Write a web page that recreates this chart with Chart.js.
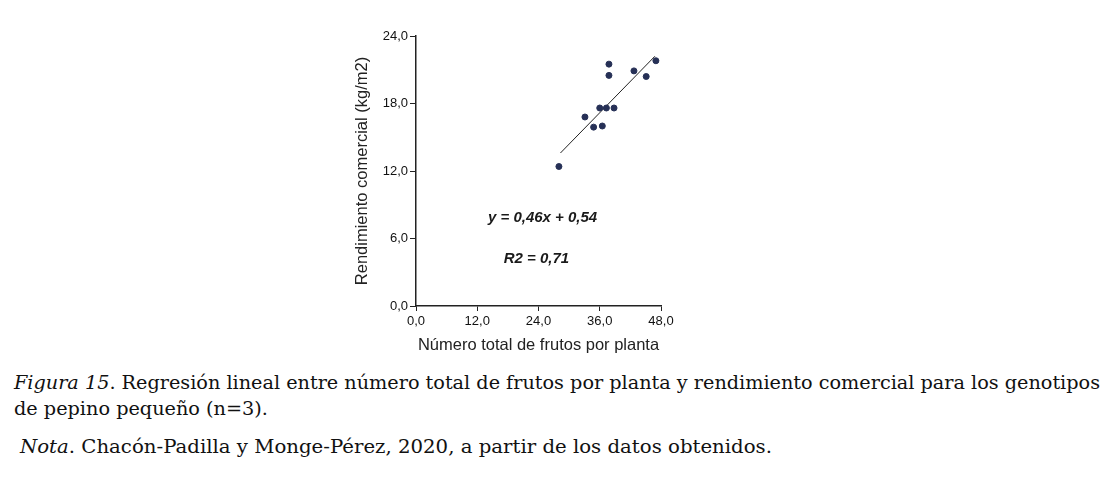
<!DOCTYPE html>
<html>
<head>
<meta charset="utf-8">
<script src="https://cdn.jsdelivr.net/npm/chart.js@4/dist/chart.umd.min.js"></script>
<style>
  html, body { margin: 0; padding: 0; background: #fff; }
  body { width: 1115px; height: 480px; position: relative; overflow: hidden; }
  #wrap { position: absolute; left: 340px; top: 20px; width: 340px; height: 340px; }
  .cap { position: absolute; font-family: "DejaVu Serif", "Liberation Serif", serif; font-size: 18px; color: #111; white-space: nowrap; transform-origin: 0 0; }
  .cap i { font-style: italic; }
</style>
</head>
<body>
<div id="wrap"><canvas id="chart"></canvas></div>
<div class="cap" id="cap1" data-w="1086" style="left:14px; top:372px;"><i>Figura 15</i>. Regresión lineal entre número total de frutos por planta y rendimiento comercial para los genotipos</div>
<div class="cap" id="cap2" data-w="254" style="left:14px; top:398px;">de pepino pequeño (n=3).</div>
<div class="cap" id="cap3" data-w="752" style="left:20px; top:436px;"><i>Nota</i>. Chacón-Padilla y Monge-Pérez, 2020, a partir de los datos obtenidos.</div>
<script>
// frutos por planta (x) y rendimiento comercial kg/m2 (y)
var frutos = [28.0, 33.1, 34.8, 36.5, 36.0, 37.3, 38.8, 37.8, 37.8, 42.7, 45.1, 47.0];
var rendimiento = [12.4, 16.8, 15.9, 16.0, 17.6, 17.6, 17.6, 21.5, 20.5, 20.9, 20.4, 21.8];
// tendencia lineal (extremos)
var lineaX = [28.3, 46.8];
var lineaY = [13.6, 22.2];
var ticksX = [0, 12, 24, 36, 48];
var ticksY = [0, 6, 12, 18, 24];
var ecuacion = 'y = 0,46x + 0,54';
var r2 = 'R2 = 0,71';

// ajustar el ancho de los textos del pie
document.querySelectorAll('.cap').forEach(function (el) {
  var w = el.getBoundingClientRect().width;
  el.style.transform = 'scaleX(' + (parseFloat(el.dataset.w) / w) + ')';
});

function pairs(xs, ys) {
  return xs.map(function (v, i) { return { x: v, y: ys[i] }; });
}

function fmt(v) {
  return v.toFixed(1).replace('.', ',');
}

var textos = {
  id: 'textos',
  afterDatasetsDraw: function (chart) {
    var ctx = chart.ctx;
    var sx = chart.scales.x, sy = chart.scales.y;
    ctx.save();
    ctx.fillStyle = '#1a1a1a';
    ctx.font = 'italic bold 15px "Liberation Sans", Arial, sans-serif';
    ctx.textAlign = 'center';
    ctx.textBaseline = 'middle';
    ctx.fillText(ecuacion, sx.getPixelForValue(24.8), sy.getPixelForValue(7.8));
    ctx.fillText(r2, sx.getPixelForValue(23.6), sy.getPixelForValue(4.2));
    ctx.restore();
  }
};

var tickFont = { family: '"Liberation Sans", Arial, sans-serif', size: 13 };
var titleFont = { family: '"Liberation Sans", Arial, sans-serif', size: 16.5 };

new Chart(document.getElementById('chart'), {
  type: 'scatter',
  data: {
    datasets: [{
      data: pairs(frutos, rendimiento),
      backgroundColor: '#263056',
      borderColor: '#263056',
      pointRadius: 3,
      pointHoverRadius: 3
    }, {
      type: 'line',
      data: pairs(lineaX, lineaY),
      borderColor: '#222',
      borderWidth: 1,
      pointRadius: 0,
      fill: false
    }]
  },
  plugins: [textos],
  options: {
    responsive: true,
    maintainAspectRatio: false,
    animation: false,
    events: [],
    layout: { padding: { top: 16, right: 19, left: 13, bottom: 5 } },
    plugins: { legend: { display: false }, tooltip: { enabled: false } },
    scales: {
      x: {
        type: 'linear',
        min: 0, max: 48,
        afterBuildTicks: function (s) { s.ticks = ticksX.map(function (v) { return { value: v }; }); },
        afterFit: function (s) { s.height = 49; },
        grid: { drawOnChartArea: false, drawTicks: true, tickLength: 5, color: '#222' },
        border: { display: true, color: '#222', width: 1.5 },
        ticks: { color: '#111', font: tickFont, padding: 3, maxRotation: 0, callback: function (v) { return fmt(v); } },
        title: { display: true, text: 'Número total de frutos por planta', color: '#222', font: titleFont, padding: { top: 2, bottom: 0 } }
      },
      y: {
        type: 'linear',
        min: 0, max: 24,
        afterBuildTicks: function (s) { s.ticks = ticksY.map(function (v) { return { value: v }; }); },
        afterFit: function (s) { s.width = 63; },
        grid: { drawOnChartArea: false, drawTicks: true, tickLength: 6, color: '#222' },
        border: { display: true, color: '#222', width: 1.5 },
        ticks: { color: '#111', font: tickFont, padding: 2, callback: function (v) { return fmt(v); } },
        title: { display: true, text: 'Rendimiento comercial (kg/m2)', color: '#222', font: titleFont, padding: { top: 0, bottom: 4 } }
      }
    }
  }
});
</script>
</body>
</html>
